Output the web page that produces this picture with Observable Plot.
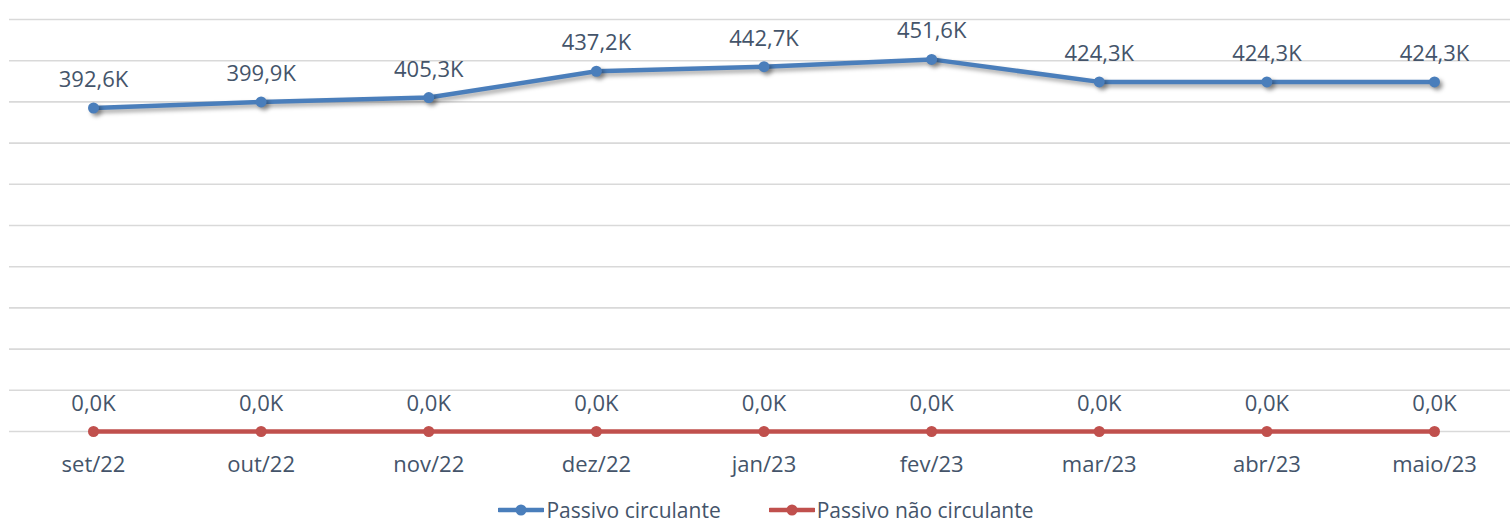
<!DOCTYPE html>
<html>
<head>
<meta charset="utf-8">
<script src="https://cdn.jsdelivr.net/npm/d3@7"></script>
<script src="https://cdn.jsdelivr.net/npm/@observablehq/plot@0.6"></script>
<style>
  html, body { margin: 0; padding: 0; background: #fff; overflow: hidden; }
  #chart { width: 1510px; }
  .legend { display: flex; justify-content: center; align-items: center; gap: 48px;
    font-family: "Open Sans", sans-serif; font-size: 21px; color: #44546A;
    height: 22px; line-height: 22px; margin-left: 22px; margin-top: 11px; }
  .legend span.item { display: inline-flex; align-items: center; }
  .legend svg { margin-right: 2px; }
</style>
</head>
<body>
<div id="chart"></div>
<script>
const months = ["set/22","out/22","nov/22","dez/22","jan/23","fev/23","mar/23","abr/23","maio/23"];
const circulante = [392.6, 399.9, 405.3, 437.2, 442.7, 451.6, 424.3, 424.3, 424.3];
const naoCirculante = [0, 0, 0, 0, 0, 0, 0, 0, 0];
const yTicks = [0, 50, 100, 150, 200, 250, 300, 350, 400, 450, 500];
const seriesNames = ["Passivo circulante", "Passivo não circulante"];
const seriesColors = ["#4A7EBB", "#C0504D"];

const rows = [];
months.forEach((m, i) => {
  rows.push({month: m, value: circulante[i], series: seriesNames[0]});
  rows.push({month: m, value: naoCirculante[i], series: seriesNames[1]});
});
const fmt = v => v.toFixed(1).replace(".", ",") + "K";
const textColor = "#44546A";
const font = "Open Sans, sans-serif";

const plot = Plot.plot({
  width: 1510,
  height: 488,
  marginLeft: 9,
  marginRight: 0,
  marginTop: 19,
  marginBottom: 57,
  style: {fontFamily: font, background: "#fff"},
  x: {type: "point", domain: months, range: [93, 1434], padding: 0, round: false, label: null},
  y: {domain: [0, 500], range: [431, 19], axis: null},
  color: {domain: seriesNames, range: seriesColors},
  marks: [
    Plot.ruleY(yTicks, {stroke: "#D9D9D9", strokeWidth: 1.6}),
    Plot.axisX({tickSize: 0, tickPadding: 25, fontSize: 22, color: textColor, fill: textColor, label: null}),
    Plot.line(rows, {x: "month", y: "value", z: "series", stroke: "series", strokeWidth: 4.5, curve: "linear"}),
    Plot.dot(rows, {x: "month", y: "value", fill: "series", r: 5.5, stroke: null}),
    Plot.text(rows, {x: "month", y: "value", text: d => fmt(d.value), dy: -28, fill: textColor, fontSize: 22, fontFamily: font})
  ]
});
document.getElementById("chart").appendChild(plot);

// subtle shadow on the blue line, like the source
plot.querySelectorAll('g[aria-label="line"] path').forEach(p => {
  if (p.getAttribute("stroke") && p.getAttribute("stroke").toLowerCase() === seriesColors[0].toLowerCase()) {
    p.style.filter = "drop-shadow(3px 3px 2px rgba(0,0,0,0.35))";
  }
});
plot.querySelectorAll('g[aria-label="dot"] circle').forEach(c => {
  if (c.getAttribute("fill") && c.getAttribute("fill").toLowerCase() === seriesColors[0].toLowerCase()) {
    c.style.filter = "drop-shadow(3px 3px 2px rgba(0,0,0,0.35))";
  }
});

// legend
const legend = d3.select("#chart").append("div").attr("class", "legend");
seriesNames.forEach((name, i) => {
  const item = legend.append("span").attr("class", "item");
  const s = item.append("svg").attr("width", 46).attr("height", 14);
  s.append("line").attr("x1", 1).attr("x2", 45).attr("y1", 7).attr("y2", 7)
    .attr("stroke", seriesColors[i]).attr("stroke-width", 4.5).attr("stroke-linecap", "round");
  s.append("circle").attr("cx", 23).attr("cy", 7).attr("r", 5.5).attr("fill", seriesColors[i]);
  item.append("span").text(name);
});
</script>
</body>
</html>
